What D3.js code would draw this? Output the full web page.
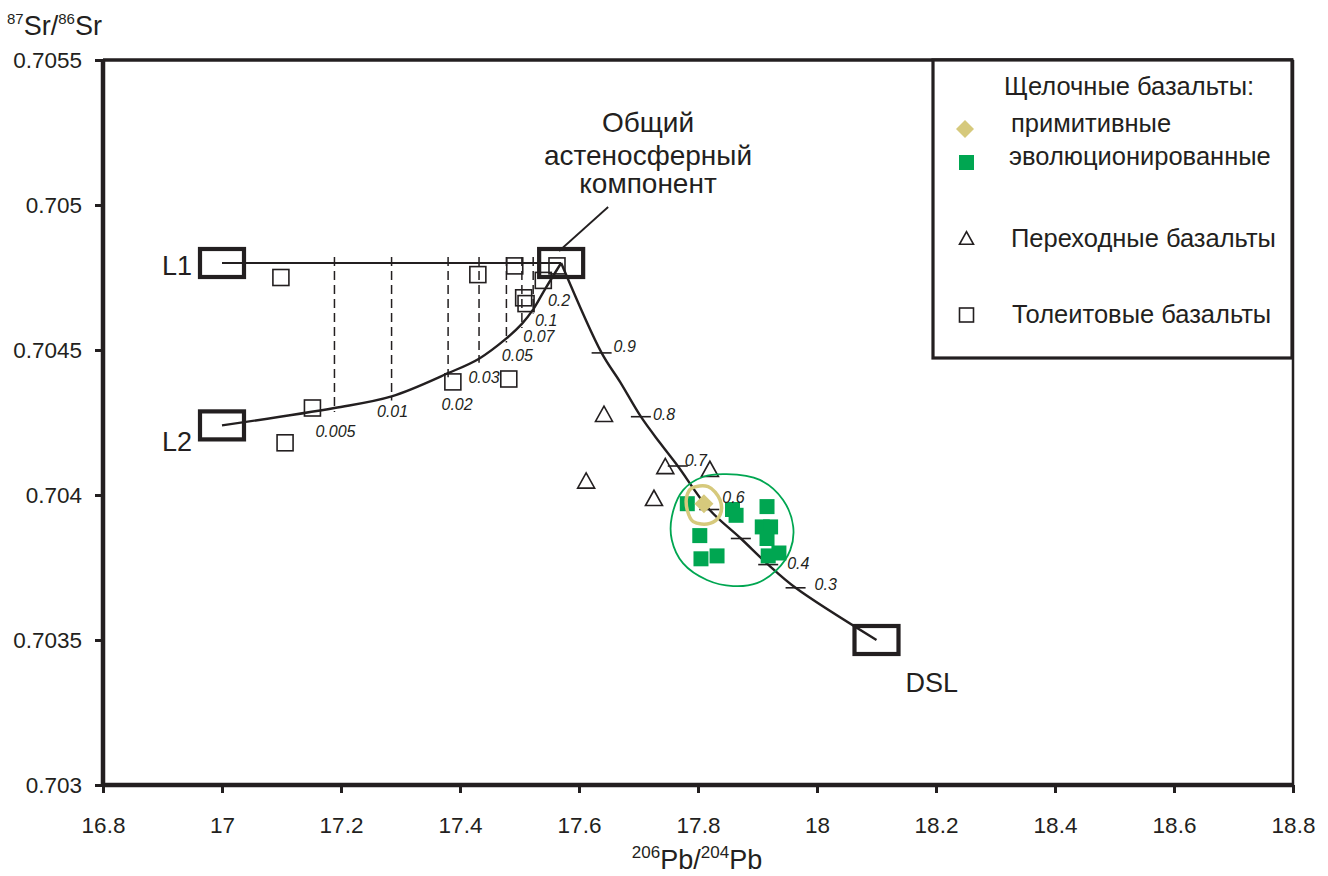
<!DOCTYPE html>
<html>
<head>
<meta charset="utf-8">
<script src="https://cdn.jsdelivr.net/npm/d3@7"></script>
<style>
  body { margin: 0; background: #fff; }
  svg { display: block; font-family: "Liberation Sans", Arial, Helvetica, sans-serif; }
</style>
</head>
<body>
<svg id="chart" width="1328" height="876"></svg>
<script>
// ---------- data ----------
const xTicks = [16.8, 17.0, 17.2, 17.4, 17.6, 17.8, 18.0, 18.2, 18.4, 18.6, 18.8];
const xTickLabels = ["16.8", "17", "17.2", "17.4", "17.6", "17.8", "18", "18.2", "18.4", "18.6", "18.8"];
const yTicks = [0.703, 0.7035, 0.704, 0.7045, 0.705, 0.7055];
const yTickLabels = ["0.703", "0.7035", "0.704", "0.7045", "0.705", "0.7055"];

// end-member compositions: L1, L2, common asthenospheric component, DSL
const endmemberNames = ["L1", "L2", "ASTH", "DSL"];
const endmemberX = [17.0, 17.0, 17.57, 18.1];
const endmemberY = [0.7048, 0.70424, 0.7048, 0.7035];

// marks on the L2 – asthenosphere mixing curve
const l2MarkLabels = ["0.005", "0.01", "0.02", "0.03", "0.05", "0.07", "0.1", "0.2"];
const l2MarkX = [17.189, 17.285, 17.380, 17.432, 17.478, 17.504, 17.523, 17.543];
const l2MarkY = [0.70430, 0.70434, 0.70442, 0.70447, 0.70454, 0.70459, 0.70464, 0.70471];
const l2MarkDashed = [true, true, true, true, true, true, true, false];

// asthenosphere – DSL mixing curve
const dslCurveX = [17.57, 17.638, 17.669, 17.704, 17.736, 17.766, 17.819, 17.872, 17.918, 17.964, 18.1];
const dslCurveY = [0.7048, 0.70449, 0.70439, 0.70427, 0.70418, 0.70410, 0.70395, 0.70385, 0.70376, 0.70368, 0.7035];
const dslMarkLabels = ["0.9", "0.8", "0.7", "0.6", "0.5", "0.4", "0.3"];
const dslMarkX = [17.638, 17.704, 17.766, 17.819, 17.872, 17.918, 17.964];
const dslMarkY = [0.70449, 0.70427, 0.70410, 0.70395, 0.70385, 0.70376, 0.70368];
const dslMarkShown = [true, true, true, true, false, true, true];

// tholeiitic basalts
const tholX = [17.099, 17.106, 17.152, 17.388, 17.430, 17.482, 17.492, 17.507, 17.511, 17.540, 17.563];
const tholY = [0.70475, 0.70418, 0.70430, 0.70439, 0.70476, 0.70440, 0.70479, 0.70468, 0.70466, 0.70474, 0.70479];

// transitional basalts
const transX = [17.642, 17.612, 17.745, 17.820, 17.726];
const transY = [0.70428, 0.70405, 0.70410, 0.70409, 0.70399];

// alkaline basalts, evolved
const evolvedX = [17.782, 17.858, 17.864, 17.916, 17.803, 17.908, 17.922, 17.916, 17.805, 17.832, 17.918, 17.936];
const evolvedY = [0.70397, 0.70395, 0.70393, 0.70396, 0.70386, 0.70389, 0.70389, 0.70385, 0.70378, 0.70379, 0.70379, 0.70380];

// alkaline basalts, primitive
const primitiveX = [17.810];
const primitiveY = [0.70397];

// field outlines
const evolvedFieldX = [17.848, 17.904, 17.943, 17.960, 17.955, 17.932, 17.899, 17.859, 17.815, 17.775, 17.756, 17.756, 17.775, 17.809];
const evolvedFieldY = [0.704072, 0.704052, 0.703983, 0.703891, 0.703810, 0.703741, 0.703696, 0.703686, 0.703707, 0.703764, 0.703845, 0.703925, 0.704017, 0.704063];
const primitiveFieldX = [17.789, 17.817, 17.837, 17.837, 17.820, 17.792, 17.782, 17.781];
const primitiveFieldY = [0.704023, 0.704029, 0.703983, 0.703931, 0.703902, 0.703908, 0.703948, 0.703994];

const legendTitle = "Щелочные базальты:";
const legendLabels = ["примитивные", "эволюционированные", "Переходные базальты", "Толеитовые базальты"];
const asthLabel = ["Общий", "астеносферный", "компонент"];

// ---------- layout ----------
const svg = d3.select("#chart");
const x = d3.scaleLinear().domain([16.8, 18.8]).range([103, 1293]);
const y = d3.scaleLinear().domain([0.703, 0.7055]).range([785, 60]);

const INK = "#231f20";
const GREEN = "#00a651";
const KHAKI = "#d6c97c";

// frame
svg.append("line").attr("x1", x(16.8)).attr("x2", x(18.8)).attr("y1", y(0.7055)).attr("y2", y(0.7055))
  .attr("stroke", INK).attr("stroke-width", 3.5);
svg.append("line").attr("x1", x(18.8)).attr("x2", x(18.8)).attr("y1", y(0.7055)).attr("y2", y(0.703))
  .attr("stroke", INK).attr("stroke-width", 2.5);

// axes
const xAxis = d3.axisBottom(x).tickValues(xTicks).tickFormat((d, i) => xTickLabels[i]).tickSize(8).tickPadding(24);
const yAxis = d3.axisLeft(y).tickValues(yTicks).tickFormat((d, i) => yTickLabels[i]).tickSize(8).tickPadding(13);
const gx = svg.append("g").attr("transform", `translate(0,${y(0.703)})`).call(xAxis);
const gy = svg.append("g").attr("transform", `translate(${x(16.8)},0)`).call(yAxis);
[gx, gy].forEach(g => {
  g.select(".domain").attr("stroke", INK).attr("stroke-width", 4.5);
  g.selectAll(".tick line").attr("stroke", INK).attr("stroke-width", 3);
  g.selectAll(".tick text").attr("fill", INK).attr("font-size", 22.5)
    .attr("font-family", "'Liberation Sans', Arial, sans-serif");
});
gx.select(".domain").attr("d", `M${x(16.8)},0H${x(18.8)}`);
gy.select(".domain").attr("d", `M0,${y(0.7055)}V${y(0.703)}`);

// axis titles
const xt = svg.append("text").attr("x", 697).attr("y", 869).attr("text-anchor", "middle")
  .attr("font-size", 27).attr("fill", INK);
xt.append("tspan").text("206").attr("font-size", 17).attr("dy", -11);
xt.append("tspan").text("Pb/").attr("dy", 11);
xt.append("tspan").text("204").attr("font-size", 17).attr("dy", -11);
xt.append("tspan").text("Pb").attr("dy", 11);

const yt = svg.append("text").attr("x", 7).attr("y", 35).attr("font-size", 27).attr("fill", INK);
yt.append("tspan").text("87").attr("font-size", 15).attr("dy", -11);
yt.append("tspan").text("Sr/").attr("dy", 11);
yt.append("tspan").text("86").attr("font-size", 15).attr("dy", -11);
yt.append("tspan").text("Sr").attr("dy", 11);

const plot = svg.append("g");

// ---------- mixing lines ----------
const asth = 2;
// L1 – asthenosphere
plot.append("line")
  .attr("x1", x(endmemberX[0])).attr("y1", y(endmemberY[0]))
  .attr("x2", x(endmemberX[asth])).attr("y2", y(endmemberY[asth]))
  .attr("stroke", INK).attr("stroke-width", 2.2);

// vertical dashed tie lines L1 → L2 curve
l2MarkX.forEach((mx, i) => {
  if (!l2MarkDashed[i]) return;
  plot.append("line")
    .attr("x1", x(mx)).attr("x2", x(mx))
    .attr("y1", y(endmemberY[0]) - 6).attr("y2", y(l2MarkY[i]) + 4)
    .attr("stroke", INK).attr("stroke-width", 1.5)
    .attr("stroke-dasharray", "9,5");
});

const line = d3.line().x(d => x(d[0])).y(d => y(d[1])).curve(d3.curveCatmullRom.alpha(0.5));

// L2 – asthenosphere curve
const l2Pts = [[endmemberX[1], endmemberY[1]]]
  .concat(l2MarkX.map((v, i) => [v, l2MarkY[i]]))
  .concat([[endmemberX[asth], endmemberY[asth]]]);
plot.append("path").attr("d", line(l2Pts)).attr("fill", "none")
  .attr("stroke", INK).attr("stroke-width", 2.4);

// asthenosphere – DSL curve
const dslPts = dslCurveX.map((v, i) => [v, dslCurveY[i]]);
plot.append("path").attr("d", line(dslPts)).attr("fill", "none")
  .attr("stroke", INK).attr("stroke-width", 2.4);

// marks on the DSL curve
dslMarkX.forEach((mx, i) => {
  plot.append("line")
    .attr("x1", x(mx) - 10).attr("x2", x(mx) + 10)
    .attr("y1", y(dslMarkY[i])).attr("y2", y(dslMarkY[i]))
    .attr("stroke", INK).attr("stroke-width", 1.6);
});

// leader from the asthenospheric component label
plot.append("line")
  .attr("x1", x(endmemberX[asth]) - 2).attr("y1", y(endmemberY[asth]) - 12)
  .attr("x2", x(endmemberX[asth]) + 47).attr("y2", y(endmemberY[asth]) - 56)
  .attr("stroke", INK).attr("stroke-width", 1.8);

// ---------- data points ----------
function hollowSquare(g, px, py, s) {
  g.append("rect").attr("x", px - s / 2).attr("y", py - s / 2).attr("width", s).attr("height", s)
    .attr("fill", "none").attr("stroke", INK).attr("stroke-width", 1.6);
}
function hollowTriangle(g, px, py, s) {
  const h = s * 0.9;
  g.append("path")
    .attr("d", `M${px},${py - h / 2}L${px + s / 2},${py + h / 2}L${px - s / 2},${py + h / 2}Z`)
    .attr("fill", "none").attr("stroke", INK).attr("stroke-width", 1.6).attr("stroke-linejoin", "miter");
}
function diamond(g, px, py, w, fill) {
  g.append("path")
    .attr("d", `M${px},${py - w / 2}L${px + w / 2},${py}L${px},${py + w / 2}L${px - w / 2},${py}Z`)
    .attr("fill", fill);
}

tholX.forEach((v, i) => hollowSquare(plot, x(v), y(tholY[i]), 16));
transX.forEach((v, i) => hollowTriangle(plot, x(v), y(transY[i]), 17));

const closed = d3.line().x(d => x(d[0])).y(d => y(d[1])).curve(d3.curveCatmullRomClosed.alpha(0.5));
plot.append("path")
  .attr("d", closed(evolvedFieldX.map((v, i) => [v, evolvedFieldY[i]])))
  .attr("fill", "none").attr("stroke", GREEN).attr("stroke-width", 1.8);

evolvedX.forEach((v, i) => {
  plot.append("rect").attr("x", x(v) - 7.5).attr("y", y(evolvedY[i]) - 7.5)
    .attr("width", 15).attr("height", 15).attr("fill", GREEN);
});

plot.append("path")
  .attr("d", closed(primitiveFieldX.map((v, i) => [v, primitiveFieldY[i]])))
  .attr("fill", "none").attr("stroke", KHAKI).attr("stroke-width", 3.5);
primitiveX.forEach((v, i) => diamond(plot, x(v), y(primitiveY[i]), 19, KHAKI));

// ---------- end-member boxes ----------
endmemberX.forEach((v, i) => {
  plot.append("rect")
    .attr("x", x(v) - 22).attr("y", y(endmemberY[i]) - 14)
    .attr("width", 44).attr("height", 28)
    .attr("fill", "none").attr("stroke", INK).attr("stroke-width", 4.2);
});

// ---------- labels ----------
const labelFont = { "font-size": 27, "fill": INK };
function txt(g, tx, ty, s, attrs) {
  const t = g.append("text").attr("x", tx).attr("y", ty).text(s);
  Object.entries(attrs).forEach(([k, val]) => t.attr(k, val));
  return t;
}
txt(plot, x(endmemberX[0]) - 60, y(endmemberY[0]) + 12, endmemberNames[0], labelFont);
txt(plot, x(endmemberX[1]) - 60, y(endmemberY[1]) + 26, endmemberNames[1], labelFont);
txt(plot, x(endmemberX[3]) + 29, y(endmemberY[3]) + 52, endmemberNames[3], labelFont);

const asthText = plot.append("text").attr("text-anchor", "middle").attr("font-size", 28).attr("fill", INK);
[131.5, 164.5, 193].forEach((by, i) => {
  asthText.append("tspan").attr("x", 648).attr("y", by).text(asthLabel[i]);
});

// fraction labels on the L2 curve (pixel offsets from each mark)
const l2LabelOffset = [[1, 29], [1, 21], [9, 37], [5, 24], [11, 23], [17, 18], [13, 17], [14, 17]];
l2MarkLabels.forEach((s, i) => {
  txt(plot, x(l2MarkX[i]) + l2LabelOffset[i][0], y(l2MarkY[i]) + l2LabelOffset[i][1], s,
    { "font-size": 16, "font-style": "italic", "text-anchor": "middle", "fill": INK });
});

// fraction labels on the DSL curve
const dslLabelOffset = [[12, -1], [12, 3], [7, 0], [13, -7], [0, 0], [19, 4], [19, 2]];
dslMarkLabels.forEach((s, i) => {
  if (!dslMarkShown[i]) return;
  txt(plot, x(dslMarkX[i]) + dslLabelOffset[i][0], y(dslMarkY[i]) + dslLabelOffset[i][1], s,
    { "font-size": 16, "font-style": "italic", "fill": INK });
});

// ---------- legend ----------
const lg = svg.append("g");
const legFont = { "font-size": 25.5, "fill": INK };
lg.append("rect").attr("x", 933).attr("y", 60).attr("width", 359).attr("height", 298)
  .attr("fill", "#fff").attr("stroke", INK).attr("stroke-width", 3.2);
txt(lg, 1004, 95, legendTitle, legFont);
diamond(lg, 965, 129, 18, KHAKI);
txt(lg, 1011, 132, legendLabels[0], legFont);
lg.append("rect").attr("x", 959).attr("y", 155).attr("width", 15).attr("height", 15).attr("fill", GREEN);
txt(lg, 1009, 165, legendLabels[1], legFont);
hollowTriangle(lg, 966.5, 238, 14);
txt(lg, 1011, 247, legendLabels[2], legFont);
hollowSquare(lg, 966.5, 315, 14);
txt(lg, 1012, 323, legendLabels[3], legFont);
</script>
</body>
</html>
